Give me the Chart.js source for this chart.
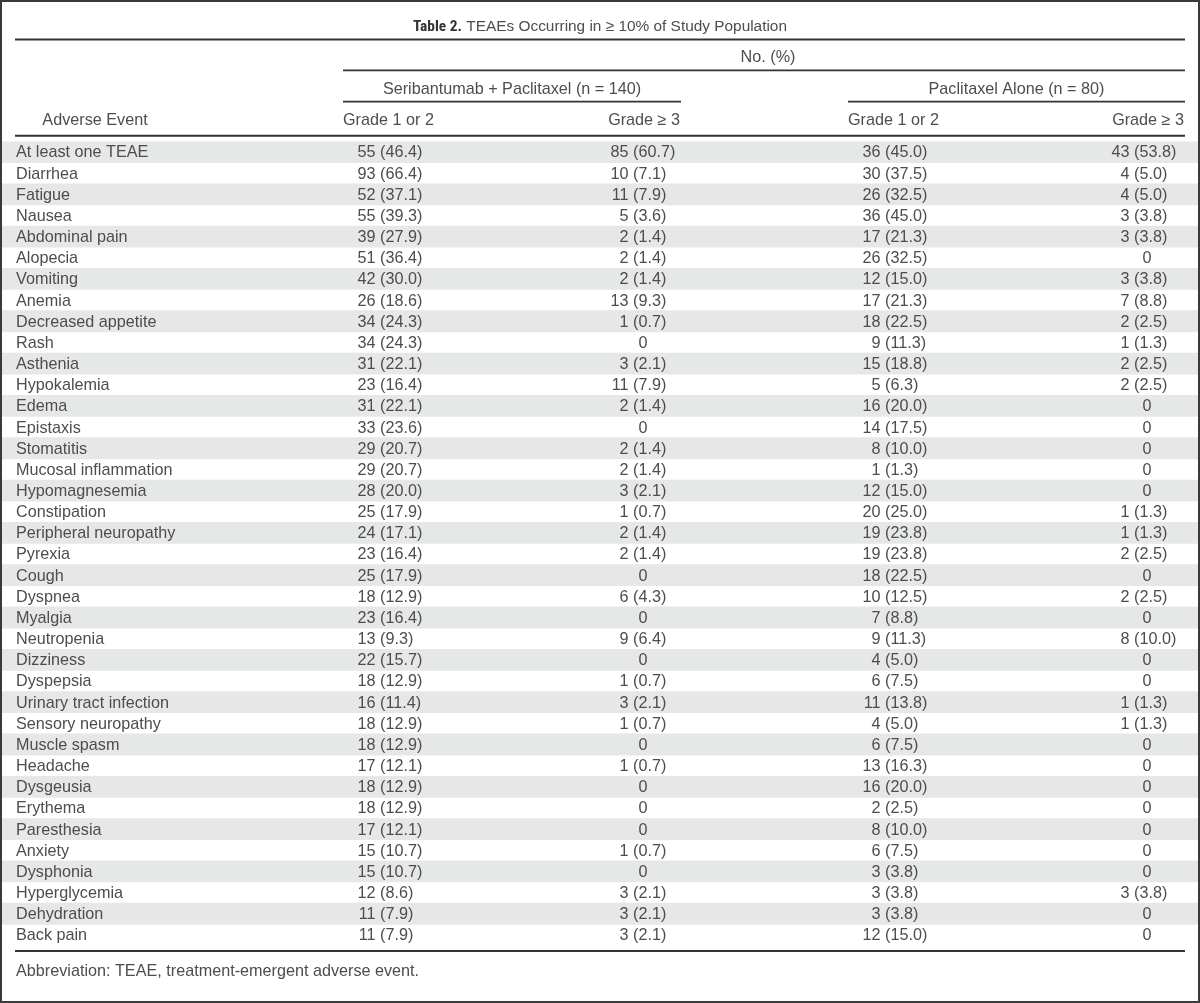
<!DOCTYPE html>
<html><head><meta charset="utf-8">
<script src="https://cdn.jsdelivr.net/npm/chart.js@4.4.1/dist/chart.umd.min.js"></script>
<style>html,body{margin:0;padding:0;background:#fff;}canvas{display:block;}</style>
</head><body>
<canvas id="c" width="1200" height="1003"></canvas>
<script>
// ---------- DATA ----------
const titleBold = 'Table 2.';
const titleRest = ' TEAEs Occurring in \u2265 10% of Study Population';
const spannerLabel = 'No. (%)';
const groupLabels = ['Seribantumab + Paclitaxel (n = 140)', 'Paclitaxel Alone (n = 80)'];
const columnLabels = ['Adverse Event', 'Grade 1 or 2', 'Grade \u2265 3', 'Grade 1 or 2', 'Grade \u2265 3'];
const footnote = 'Abbreviation: TEAE, treatment-emergent adverse event.';

const events = ['At least one TEAE','Diarrhea','Fatigue','Nausea','Abdominal pain','Alopecia','Vomiting','Anemia',
  'Decreased appetite','Rash','Asthenia','Hypokalemia','Edema','Epistaxis','Stomatitis','Mucosal inflammation',
  'Hypomagnesemia','Constipation','Peripheral neuropathy','Pyrexia','Cough','Dyspnea','Myalgia','Neutropenia',
  'Dizziness','Dyspepsia','Urinary tract infection','Sensory neuropathy','Muscle spasm','Headache','Dysgeusia',
  'Erythema','Paresthesia','Anxiety','Dysphonia','Hyperglycemia','Dehydration','Back pain'];

const seriG12N   = [55,93,52,55,39,51,42,26,34,34,31,23,31,33,29,29,28,25,24,23,25,18,23,13,22,18,16,18,18,17,18,18,17,15,15,12,11,11];
const seriG12Pct = [46.4,66.4,37.1,39.3,27.9,36.4,30.0,18.6,24.3,24.3,22.1,16.4,22.1,23.6,20.7,20.7,20.0,17.9,17.1,16.4,17.9,12.9,16.4,9.3,15.7,12.9,11.4,12.9,12.9,12.1,12.9,12.9,12.1,10.7,10.7,8.6,7.9,7.9];
const seriG3N    = [85,10,11,5,2,2,2,13,1,0,3,11,2,0,2,2,3,1,2,2,0,6,0,9,0,1,3,1,0,1,0,0,0,1,0,3,3,3];
const seriG3Pct  = [60.7,7.1,7.9,3.6,1.4,1.4,1.4,9.3,0.7,0,2.1,7.9,1.4,0,1.4,1.4,2.1,0.7,1.4,1.4,0,4.3,0,6.4,0,0.7,2.1,0.7,0,0.7,0,0,0,0.7,0,2.1,2.1,2.1];
const paclG12N   = [36,30,26,36,17,26,12,17,18,9,15,5,16,14,8,1,12,20,19,19,18,10,7,9,4,6,11,4,6,13,16,2,8,6,3,3,3,12];
const paclG12Pct = [45.0,37.5,32.5,45.0,21.3,32.5,15.0,21.3,22.5,11.3,18.8,6.3,20.0,17.5,10.0,1.3,15.0,25.0,23.8,23.8,22.5,12.5,8.8,11.3,5.0,7.5,13.8,5.0,7.5,16.3,20.0,2.5,10.0,7.5,3.8,3.8,3.8,15.0];
const paclG3N    = [43,4,4,3,3,0,3,7,2,1,2,2,0,0,0,0,0,1,1,2,0,2,0,8,0,0,1,1,0,0,0,0,0,0,0,3,0,0];
const paclG3Pct  = [53.8,5.0,5.0,3.8,3.8,0,3.8,8.8,2.5,1.3,2.5,2.5,0,0,0,0,0,1.3,1.3,2.5,0,2.5,0,10.0,0,0,1.3,1.3,0,0,0,0,0,0,0,3.8,0,0];

// ---------- LAYOUT / STYLE ----------
const TEXT = '#4d4d4d';
const RULE = '#333333';
const SHADE = '#e6e7e7';
const FONT_FAMILY = '"Liberation Sans", Arial, Helvetica, sans-serif';
const BODY_FONT = '16.2px ' + FONT_FAMILY;
const TITLE_FONT = '15.4px ' + FONT_FAMILY;
const BOLD_FONT = 'bold 15.4px "Liberation Sans Narrow", "Roboto Condensed", Roboto, sans-serif';
const tableLeft = 15, tableRight = 1185;
const labelX = 16;
// columns on the x scale: anchor = where "(" starts, zeroX = center for plain "0"
const valueCols = [
  {n: seriG12N, p: seriG12Pct, anchor: 380, zeroX: 390},
  {n: seriG3N,  p: seriG3Pct,  anchor: 633, zeroX: 643},
  {n: paclG12N, p: paclG12Pct, anchor: 885, zeroX: 895},
  {n: paclG3N,  p: paclG3Pct,  anchor: 1134, zeroX: 1147}
];
const groupSpans = [[343, 681], [848, 1185]];

function fmtPrefix(n){ return n + ' '; }
function fmtSuffix(p){ return '(' + p.toFixed(1) + ')'; }

const tablePlugin = {
  id: 'tableText',
  afterDatasetsDraw(chart) {
    const {ctx, chartArea, scales} = chart;
    const x = scales.x, y = scales.y;
    const X = v => x.getPixelForValue(v);
    ctx.save();
    // frame
    ctx.strokeStyle = '#3a3a3a';
    ctx.lineWidth = 2;
    ctx.strokeRect(1, 1, chart.width - 2, chart.height - 2);

    const hline = (x0, x1, yy, w) => {
      ctx.beginPath(); ctx.strokeStyle = RULE; ctx.lineWidth = w || 2;
      ctx.moveTo(X(x0), yy); ctx.lineTo(X(x1), yy); ctx.stroke();
    };
    const top = chartArea.top;
    // rules
    hline(tableLeft, tableRight, top - 102, 2);           // under title
    hline(groupSpans[0][0], tableRight, top - 71, 1.8);   // under No. (%)
    hline(groupSpans[0][0], groupSpans[0][1], top - 39.8, 1.8);
    hline(groupSpans[1][0], groupSpans[1][1], top - 39.8, 1.8);
    hline(tableLeft, tableRight, top - 5.7, 2);           // under column heads
    hline(tableLeft, tableRight, chartArea.bottom + 5.5, 2); // bottom

    ctx.fillStyle = TEXT;
    ctx.textBaseline = 'middle';
    // title
    ctx.font = BOLD_FONT;
    const wb = ctx.measureText(titleBold).width;
    ctx.font = TITLE_FONT;
    const wr = ctx.measureText(titleRest).width;
    const tx = X((tableLeft + tableRight) / 2) - (wb + wr) / 2;
    ctx.textAlign = 'left';
    ctx.fillStyle = '#333';
    ctx.font = BOLD_FONT; ctx.fillText(titleBold, tx, top - 114.5);
    ctx.fillStyle = TEXT;
    ctx.font = TITLE_FONT; ctx.fillText(titleRest, tx + wb, top - 114.5);

    // spanner + groups
    ctx.font = BODY_FONT;
    ctx.textAlign = 'center';
    ctx.fillText(spannerLabel, X(768), top - 83.5);
    groupSpans.forEach((s, i) => ctx.fillText(groupLabels[i], X((s[0] + s[1]) / 2), top - 52));

    // column heads
    const headY = top - 21;
    ctx.textAlign = 'center'; ctx.fillText(columnLabels[0], X(95), headY);
    ctx.textAlign = 'left';   ctx.fillText(columnLabels[1], X(groupSpans[0][0]), headY);
    ctx.textAlign = 'right';  ctx.fillText(columnLabels[2], X(groupSpans[0][1] - 1), headY);
    ctx.textAlign = 'left';   ctx.fillText(columnLabels[3], X(groupSpans[1][0]), headY);
    ctx.textAlign = 'right';  ctx.fillText(columnLabels[4], X(groupSpans[1][1] - 1), headY);

    // body rows
    events.forEach((ev, i) => {
      const yy = y.getPixelForValue(i) + 1;
      ctx.textAlign = 'left';
      ctx.fillText(ev, X(labelX), yy);
      valueCols.forEach(c => {
        const n = c.n[i];
        if (n === 0) {
          ctx.textAlign = 'center'; ctx.fillText('0', X(c.zeroX), yy);
        } else {
          ctx.textAlign = 'right'; ctx.fillText(fmtPrefix(n), X(c.anchor), yy);
          ctx.textAlign = 'left';  ctx.fillText(fmtSuffix(c.p[i]), X(c.anchor), yy);
        }
      });
    });

    // footnote
    ctx.textAlign = 'left';
    ctx.fillText(footnote, X(labelX), chartArea.bottom + 26);
    ctx.restore();
  }
};

new Chart(document.getElementById('c'), {
  type: 'bar',
  data: {
    labels: events,
    datasets: [{
      data: events.map((_, i) => i % 2 === 0 ? [2, 1198] : null),
      backgroundColor: SHADE, borderWidth: 0,
      barPercentage: 1, categoryPercentage: 1
    }]
  },
  options: {
    indexAxis: 'y', responsive: false, animation: false, events: [],
    layout: { padding: { top: 141.4, bottom: 57.5, left: 0, right: 0 } },
    scales: {
      x: { type: 'linear', min: 0, max: 1200, display: false },
      y: { type: 'category', display: false, offset: true }
    },
    plugins: { legend: { display: false }, tooltip: { enabled: false } }
  },
  plugins: [tablePlugin]
});
</script>
</body></html>
